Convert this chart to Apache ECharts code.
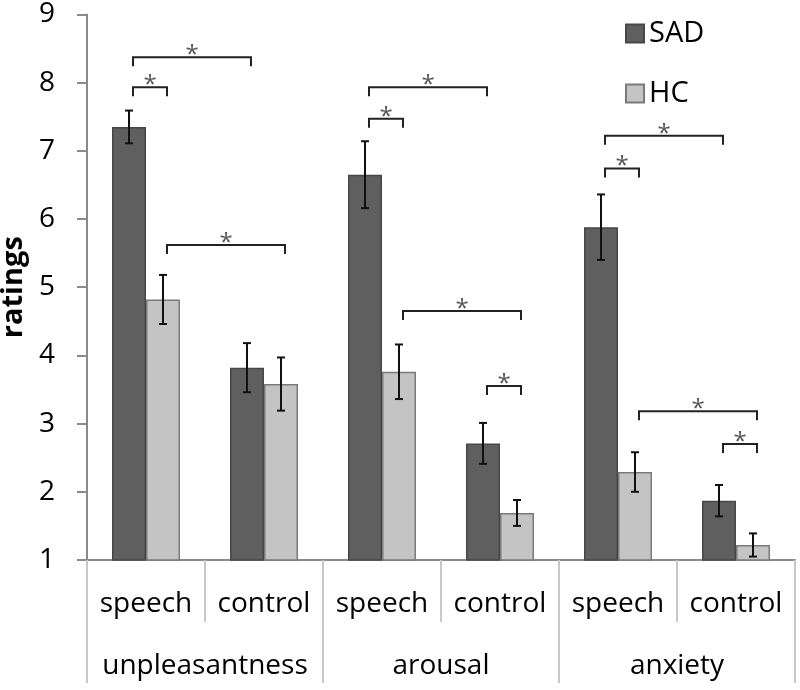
<!DOCTYPE html>
<html><head><meta charset="utf-8">
<script src="https://cdn.jsdelivr.net/npm/echarts@6/dist/echarts.min.js"></script>
<style>html,body{margin:0;padding:0;background:#fff}#c{width:800px;height:690px}</style>
</head><body><div id="c"></div>
<script>
const conditions = ['speech', 'control', 'speech', 'control', 'speech', 'control'];
const groups = ['unpleasantness', 'arousal', 'anxiety'];
const yTicks = [1, 2, 3, 4, 5, 6, 7, 8, 9];
const seriesNames = ['SAD', 'HC'];
const sadMean = [7.35, 3.82, 6.65, 2.71, 5.88, 1.87];
const sadErr  = [0.24, 0.36, 0.49, 0.30, 0.48, 0.23];
const hcMean  = [4.82, 3.58, 3.76, 1.69, 2.29, 1.22];
const hcErr   = [0.36, 0.39, 0.40, 0.19, 0.29, 0.17];
// significance brackets: [fromCategory, fromSeries (0=SAD,1=HC), toCategory, toSeries, level]
const brackets = [
  [0, 0, 0, 1, 7.93],
  [0, 0, 1, 0, 8.37],
  [0, 1, 1, 1, 5.62],
  [2, 0, 2, 1, 7.47],
  [2, 0, 3, 0, 7.93],
  [2, 1, 3, 1, 4.65],
  [3, 0, 3, 1, 3.55],
  [4, 0, 4, 1, 6.74],
  [4, 0, 5, 0, 7.22],
  [4, 1, 5, 1, 3.18],
  [5, 0, 5, 1, 2.70]
];

const FONT = 'Open Sans';
const BW = 34;
const chart = echarts.init(document.getElementById('c'), null, {renderer: 'canvas'});

const errData = [];
sadMean.forEach((m, i) => errData.push([i, m, sadErr[i], 0]));
hcMean.forEach((m, i) => errData.push([i, m, hcErr[i], 1]));

function seriesX(api, cat, s) {
  const c = api.coord([cat, yTicks[0]]);
  return c[0] + (s === 0 ? -BW / 2 : BW / 2);
}

function errRender(params, api) {
  const i = api.value(0), m = api.value(1), e = api.value(2), s = api.value(3);
  const x = seriesX(api, i, s);
  const yt = api.coord([i, m + e])[1], yb = api.coord([i, m - e])[1];
  const st = {stroke: '#111', lineWidth: 2};
  return {type: 'group', children: [
    {type: 'line', shape: {x1: x, y1: yt, x2: x, y2: yb}, style: st},
    {type: 'line', shape: {x1: x - 4, y1: yt, x2: x + 4, y2: yt}, style: st},
    {type: 'line', shape: {x1: x - 4, y1: yb, x2: x + 4, y2: yb}, style: st}
  ]};
}

function bracketRender(params, api) {
  const c1 = api.value(0), s1 = api.value(1), c2 = api.value(2), s2 = api.value(3), lv = api.value(4);
  const x1 = seriesX(api, c1, s1) + 4, x2 = seriesX(api, c2, s2) + 4;
  const y = api.coord([c1, lv])[1];
  const leg = 9;
  return {type: 'group', children: [
    {type: 'polyline', shape: {points: [[x1, y + leg], [x1, y], [x2, y], [x2, y + leg]]},
     style: {stroke: '#222', lineWidth: 2, fill: null}},
    {type: 'text', x: (x1 + x2) / 2, y: y - 2,
     style: {text: '*', fontSize: 24, fontFamily: FONT, fill: '#555', align: 'center', verticalAlign: 'middle'}}
  ]};
}

const tickStyle = {color: '#c8c8c8', width: 2};

chart.setOption({
  animation: false,
  backgroundColor: '#fff',
  grid: {left: 87, right: 5, top: 14.4, bottom: 130, containLabel: false, outerBoundsMode: 'none'},
  legend: {
    data: seriesNames, orient: 'vertical', left: 625, top: 19, padding: 0,
    itemWidth: 18, itemHeight: 18, itemGap: 31, icon: 'rect',
    textStyle: {fontSize: 29, fontFamily: FONT, color: '#000', padding: [0, 0, 0, 0]}
  },
  xAxis: [
    {type: 'category', data: conditions, position: 'bottom',
     axisLine: {lineStyle: {color: '#8a8a8a', width: 2}},
     axisTick: {show: true, interval: 0, length: 62, lineStyle: tickStyle},
     axisLabel: {interval: 0, margin: 30, fontSize: 28, fontFamily: FONT, color: '#000'}},
    {type: 'category', data: groups, position: 'bottom', offset: 0,
     axisLine: {show: false},
     axisTick: {show: true, interval: 0, length: 123, lineStyle: tickStyle},
     axisLabel: {interval: 0, margin: 92, fontSize: 28, fontFamily: FONT, color: '#000'}}
  ],
  yAxis: {
    type: 'value', min: yTicks[0], max: yTicks[yTicks.length - 1], interval: 1,
    axisLine: {show: true, lineStyle: {color: '#8a8a8a', width: 2}},
    axisTick: {show: true, length: 10, lineStyle: {color: '#8a8a8a', width: 2}},
    axisLabel: {margin: 32, fontSize: 28, fontFamily: FONT, color: '#000'},
    splitLine: {show: false},
    name: 'ratings', nameLocation: 'middle', nameGap: 50,
    nameTextStyle: {fontSize: 29, fontWeight: 'bold', fontFamily: FONT, color: '#000'}
  },
  series: [
    {name: seriesNames[0], type: 'bar', xAxisIndex: 0, data: sadMean, barWidth: BW, barGap: '0%',
     itemStyle: {color: '#5f5f5f', borderColor: '#474747', borderWidth: 1.5}},
    {name: seriesNames[1], type: 'bar', xAxisIndex: 0, data: hcMean, barWidth: BW, barGap: '0%',
     itemStyle: {color: '#c4c4c4', borderColor: '#7a7a7a', borderWidth: 1.5}},
    {name: 'err', type: 'custom', xAxisIndex: 0, data: errData, renderItem: errRender,
     encode: {x: 0, y: 1}, z: 5},
    {name: 'sig', type: 'custom', xAxisIndex: 0, data: brackets, renderItem: bracketRender,
     encode: {x: [0, 2], y: 4}, z: 5}
  ]
});
</script></body></html>
